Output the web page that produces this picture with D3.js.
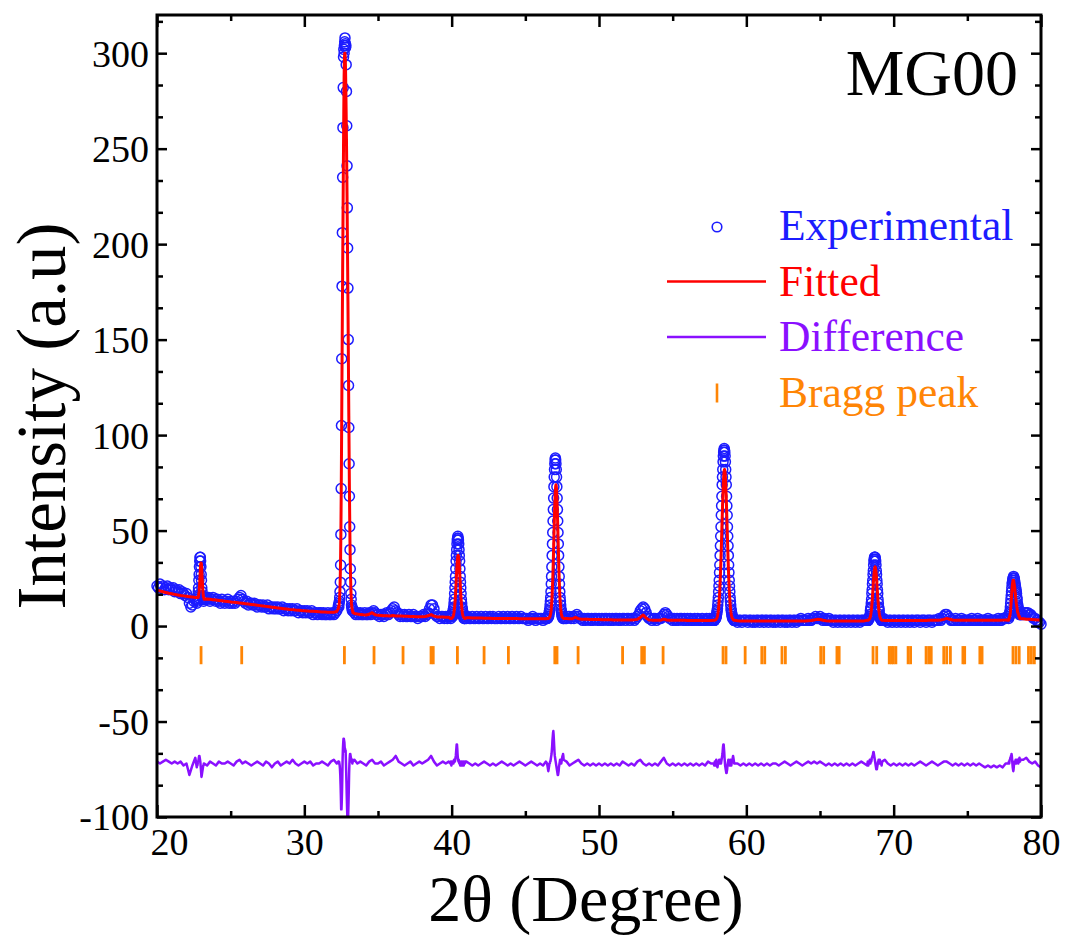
<!DOCTYPE html>
<html>
<head>
<meta charset="utf-8">
<script src="https://cdn.jsdelivr.net/npm/d3@7"></script>
<style>
  body { margin: 0; background: #fff; }
</style>
</head>
<body>
<div id="chart"></div>
<script>
// ---- data ----
// experimental scan, coarse part: 20.0 .. 80.0 every 0.1 deg (one row per degree)
const obsStart = 20
const obsStep = 0.1
const obsCoarse = [
  21, 20, 22, 20, 21, 19, 20, 21, 19, 20, // 20
  19, 20, 18, 19, 18, 19, 17, 18, 17, 16, // 21
  17, 15, 12, 10, 11, 13, 14, 12, 16, 31, // 22
  27, 15, 14, 15, 14, 15, 13, 14, 15, 14, // 23
  13, 14, 13, 12, 14, 13, 12, 13, 14, 12, // 24
  13, 12, 13, 12, 13, 14, 15, 16, 14, 13, // 25
  12, 13, 11, 12, 12, 11, 12, 11, 10, 11, // 26
  11, 10, 11, 10, 10, 11, 9, 10, 10, 9, // 27
  10, 9, 10, 9, 9, 10, 8, 9, 9, 8, // 28
  9, 8, 9, 8, 8, 9, 7, 8, 8, 7, // 29
  8, 7, 8, 7, 7, 8, 6, 7, 7, 6, // 30
  7, 7, 6, 7, 6, 6, 7, 6, 6, 7, // 31
  6, 7, 8, 10, 15, 72, 235, 300, 303, 219, // 32
  126, 40, 11, 8, 7, 6, 7, 6, 7, 6, // 33
  6, 7, 6, 6, 7, 6, 7, 8, 7, 6, // 34
  6, 5, 6, 6, 5, 6, 7, 6, 7, 8, // 35
  9, 10, 8, 7, 6, 5, 6, 5, 6, 5, // 36
  5, 6, 5, 5, 6, 5, 5, 4, 5, 5, // 37
  5, 6, 5, 6, 7, 9, 11, 11, 9, 6, // 38
  5, 5, 4, 5, 5, 4, 5, 4, 5, 5, // 39
  6, 9, 17, 34, 47, 37, 20, 9, 6, 5, // 40
  4, 5, 4, 4, 5, 4, 4, 5, 4, 4, // 41
  5, 4, 4, 5, 4, 4, 5, 4, 5, 4, // 42
  4, 4, 5, 4, 4, 5, 4, 4, 5, 4, // 43
  4, 5, 4, 4, 5, 4, 4, 5, 4, 4, // 44
  4, 4, 3, 4, 4, 5, 4, 3, 4, 4, // 45
  4, 4, 3, 4, 4, 5, 8, 15, 31, 61, // 46
  85, 78, 55, 31, 15, 8, 5, 4, 4, 5, // 47
  5, 4, 5, 4, 5, 6, 5, 4, 4, 3, // 48
  4, 3, 4, 4, 3, 4, 3, 4, 4, 3, // 49
  4, 3, 4, 3, 4, 4, 3, 4, 3, 4, // 50
  3, 4, 4, 3, 4, 3, 4, 4, 3, 4, // 51
  4, 3, 4, 4, 3, 4, 5, 6, 8, 9, // 52
  10, 9, 7, 5, 4, 4, 3, 4, 4, 3, // 53
  4, 4, 4, 5, 6, 7, 6, 5, 4, 4, // 54
  3, 4, 3, 4, 3, 4, 4, 3, 4, 3, // 55
  4, 3, 4, 3, 3, 4, 3, 4, 3, 3, // 56
  4, 3, 3, 4, 3, 4, 3, 3, 4, 5, // 57
  7, 11, 18, 37, 68, 93, 82, 58, 32, 15, // 58
  7, 4, 3, 3, 2, 3, 3, 2, 3, 3, // 59
  3, 2, 3, 3, 2, 3, 2, 3, 3, 2, // 60
  3, 3, 2, 3, 3, 2, 3, 3, 2, 3, // 61
  2, 3, 3, 2, 3, 3, 2, 3, 2, 3, // 62
  3, 2, 3, 3, 2, 3, 3, 4, 3, 3, // 63
  3, 3, 4, 3, 3, 4, 4, 5, 4, 4, // 64
  5, 4, 3, 4, 3, 3, 4, 3, 3, 2, // 65
  3, 3, 2, 3, 3, 2, 3, 3, 2, 3, // 66
  3, 2, 3, 3, 2, 3, 3, 2, 3, 3, // 67
  3, 3, 3, 4, 8, 17, 29, 36, 32, 19, // 68
  10, 5, 4, 4, 3, 3, 2, 3, 3, 2, // 69
  3, 3, 2, 3, 3, 2, 3, 3, 2, 3, // 70
  3, 2, 3, 3, 2, 3, 3, 3, 2, 3, // 71
  3, 3, 2, 3, 3, 3, 2, 3, 3, 3, // 72
  3, 4, 3, 4, 5, 6, 6, 5, 4, 3, // 73
  3, 3, 4, 3, 3, 3, 4, 3, 3, 3, // 74
  3, 3, 3, 4, 3, 3, 3, 4, 3, 3, // 75
  3, 3, 3, 3, 4, 3, 3, 3, 3, 3, // 76
  3, 4, 3, 3, 4, 4, 4, 5, 4, 8, // 77
  18, 25, 24, 19, 12, 8, 6, 6, 6, 7, // 78
  7, 7, 6, 6, 5, 4, 4, 3, 2, 2, // 79
  1 // 80
]

// fitted profile and difference curve, coarse part: 20.0 .. 80.0 every 0.2 deg
const curveStep = 0.2
const fitCoarse = [
  18.8, 18.4, 18.0, 17.6, 17.2, 16.9, 16.6, 16.3, 16.0, 15.8, // 20-21
  15.6, 15.4, 15.2, 15.0, 15.0, 33.0, 14.0, 14.2, 14.0, 13.8, // 22-23
  13.6, 13.4, 13.2, 13.0, 12.8, 12.6, 12.4, 12.3, 12.1, 11.9, // 24-25
  11.7, 11.5, 11.3, 11.1, 10.9, 10.7, 10.5, 10.3, 10.1, 9.9, // 26-27
  9.7, 9.5, 9.3, 9.1, 8.9, 8.7, 8.6, 8.4, 8.3, 8.1, // 28-29
  8.0, 7.9, 7.8, 7.7, 7.6, 7.5, 7.4, 7.3, 7.2, 7.2, // 30-31
  7.2, 7.6, 16, 185, 290, 130, 12, 6.6, 6.3, 6.1, // 32-33
  5.9, 5.8, 6.2, 7.0, 5.9, 5.6, 5.5, 5.4, 5.4, 5.3, // 34-35
  5.5, 5.3, 5.2, 5.2, 5.1, 5.1, 5.0, 5.0, 4.9, 4.9, // 36-37
  4.9, 5.0, 5.4, 6.0, 5.2, 4.8, 4.7, 4.7, 4.6, 4.6, // 38-39
  4.5, 14, 37, 14, 4.5, 4.3, 4.3, 4.2, 4.2, 4.2, // 40-41
  4.2, 4.1, 4.1, 4.1, 4.0, 4.0, 4.0, 4.0, 3.9, 3.9, // 42-43
  3.9, 3.9, 3.9, 3.8, 3.8, 3.8, 3.8, 3.8, 3.8, 3.8, // 44-45
  3.8, 3.8, 3.8, 5.8, 20, 58, 63, 24, 6.6, 3.9, // 46-47
  3.8, 3.8, 4.6, 3.9, 3.6, 3.5, 3.5, 3.4, 3.4, 3.4, // 48-49
  3.4, 3.3, 3.3, 3.3, 3.3, 3.2, 3.2, 3.2, 3.2, 3.2, // 50-51
  3.2, 3.2, 3.3, 3.5, 4.5, 5.8, 4.2, 3.2, 3.1, 3.1, // 52-53
  3.1, 3.1, 3.6, 3.2, 3.0, 3.0, 3.0, 3.0, 3.0, 3.0, // 54-55
  2.9, 2.9, 2.9, 2.9, 2.9, 2.9, 2.9, 2.9, 2.9, 3.0, // 56-57
  3.9, 13.7, 66, 75, 19, 4.7, 2.8, 2.8, 2.7, 2.7, // 58-59
  2.7, 2.7, 2.6, 2.6, 2.6, 2.6, 2.6, 2.6, 2.6, 2.6, // 60-61
  2.6, 2.6, 2.6, 2.6, 2.6, 2.6, 2.6, 2.6, 2.7, 2.7, // 62-63
  2.7, 2.8, 2.9, 3.2, 3.5, 3.4, 3.0, 2.8, 2.7, 2.7, // 64-65
  2.7, 2.7, 2.7, 2.7, 2.7, 2.7, 2.7, 2.7, 2.7, 2.7, // 66-67
  2.7, 3.0, 5, 22, 27, 6.8, 3.0, 2.9, 2.9, 2.9, // 68-69
  2.9, 2.9, 2.9, 2.9, 2.9, 2.9, 2.9, 2.9, 2.9, 2.9, // 70-71
  2.9, 2.9, 3.0, 3.0, 3.0, 3.0, 3.2, 3.5, 4.0, 3.6, // 72-73
  3.2, 3.0, 3.0, 3.0, 3.0, 3.0, 3.0, 3.0, 3.0, 3.0, // 74-75
  3.0, 3.0, 3.0, 3.0, 3.0, 3.0, 3.0, 3.1, 3.2, 3.0, // 76-77
  16, 21, 8, 4, 3.8, 3.6, 3.5, 3.4, 3.3, 3.2, // 78-79
  3.1 // 80
]
const diffCoarse = [
  -71, -72, -71, -70, -71, -72, -71, -72, -71, -73, // 20-21
  -72, -78, -73, -69, -73, -77, -73, -73, -71, -72, // 22-23
  -73, -71, -72, -72, -71, -72, -73, -71, -70, -72, // 24-25
  -71, -72, -73, -72, -71, -72, -73, -71, -72, -74, // 26-27
  -72, -71, -73, -72, -71, -72, -70, -72, -73, -72, // 28-29
  -71, -72, -71, -73, -72, -72, -71, -72, -73, -71, // 30-31
  -70, -72, -73, -69, -65, -92, -71, -70, -72, -71, // 32-33
  -72, -73, -71, -70, -72, -72, -71, -73, -72, -71, // 34-35
  -70, -68, -71, -72, -73, -72, -71, -73, -72, -71, // 36-37
  -72, -71, -70, -68, -71, -73, -72, -71, -72, -71, // 38-39
  -72, -70, -62, -70, -72, -71, -72, -73, -72, -73, // 40-41
  -72, -71, -72, -73, -72, -73, -72, -71, -72, -73, // 42-43
  -72, -73, -72, -71, -72, -73, -72, -71, -72, -73, // 44-45
  -72, -73, -71, -74, -67, -68, -78, -72, -68, -71, // 46-47
  -73, -72, -71, -70, -72, -73, -72, -73, -72, -73, // 48-49
  -72, -73, -72, -73, -72, -73, -72, -73, -71, -72, // 50-51
  -73, -72, -73, -71, -70, -72, -73, -72, -73, -72, // 52-53
  -73, -71, -69, -72, -73, -72, -73, -72, -73, -72, // 54-55
  -73, -72, -73, -72, -73, -72, -73, -71, -72, -70, // 56-57
  -72, -71, -63, -76, -71, -72, -69, -72, -73, -72, // 58-59
  -73, -72, -73, -72, -73, -72, -73, -72, -73, -72, // 60-61
  -72, -73, -72, -71, -72, -73, -72, -71, -72, -73, // 62-63
  -72, -71, -72, -71, -72, -71, -72, -73, -72, -73, // 64-65
  -72, -73, -72, -73, -72, -73, -72, -73, -72, -71, // 66-67
  -72, -73, -72, -68, -71, -71, -72, -70, -72, -73, // 68-69
  -72, -73, -72, -73, -72, -73, -72, -73, -72, -71, // 70-71
  -72, -73, -72, -71, -72, -73, -72, -71, -71, -72, // 72-73
  -73, -72, -73, -72, -73, -72, -73, -72, -73, -72, // 74-75
  -73, -74, -73, -74, -73, -74, -73, -74, -72, -72, // 76-77
  -67, -73, -71, -70, -70, -69, -71, -72, -71, -73, // 78-79
  -74 // 80
]

// fine scans (0.02 deg) across the reflections; they replace the coarse points in their span
const fineStep = 0.02
const fineStarts = [22.7, 32.3, 39.92, 46.48, 57.8, 68.22, 77.8]
const obsFine = [
  [12, 13, 14, 15, 16, 18, 20, 24, 27, 31, 34, 36, 36, 34, 31, 27, 24, 20, 18, 16, 15, 14, 14, 13, 14, 14],
  [10, 11, 10, 12, 13, 15, 18, 23, 32, 48, 72, 105, 140, 178, 206, 235, 261, 282, 298, 302, 300, 304, 306, 308, 305, 303, 304, 294, 280, 262, 241, 219, 198, 177, 150, 126, 104, 85, 68, 52, 40, 30, 23, 17, 14, 11, 10, 9, 8, 9, 8],
  [5, 4, 5, 6, 5, 5, 6, 5, 7, 8, 9, 10, 12, 14, 17, 20, 23, 26, 30, 34, 37, 40, 43, 45, 46, 47, 46, 45, 43, 40, 37, 34, 30, 26, 23, 20, 17, 14, 12, 10, 9, 8, 7, 6, 5, 5, 4, 5, 4, 4, 5],
  [4, 4, 5, 5, 5, 5, 6, 7, 8, 9, 11, 13, 15, 18, 22, 26, 31, 37, 43, 49, 55, 61, 67, 73, 78, 82, 85, 87, 88, 87, 85, 82, 78, 73, 67, 61, 55, 49, 43, 37, 31, 26, 22, 18, 15, 13, 11, 9, 8, 7, 6, 5, 5, 5, 4, 5, 4],
  [3, 3, 3, 4, 4, 4, 4, 5, 5, 6, 7, 8, 9, 11, 13, 15, 18, 21, 24, 28, 32, 37, 42, 47, 52, 58, 63, 68, 74, 78, 82, 86, 89, 91, 92, 93, 92, 91, 89, 86, 82, 78, 74, 68, 63, 58, 52, 47, 42, 37, 32, 28, 24, 21, 18, 15, 13, 11, 9, 8, 7, 6, 5, 5, 4, 4, 4, 4, 3, 3, 3],
  [3, 3, 3, 3, 4, 4, 4, 5, 5, 6, 8, 9, 10, 12, 14, 17, 19, 22, 24, 27, 29, 32, 34, 35, 36, 36, 36, 35, 34, 32, 29, 27, 24, 22, 19, 17, 14, 12, 10, 9, 8, 6, 5, 5, 4, 4, 4, 3, 3, 3, 3],
  [4, 5, 5, 6, 7, 8, 10, 12, 14, 16, 18, 20, 22, 23, 24, 25, 25, 26, 25, 25, 24, 23, 22, 21, 20, 19, 18, 17, 15, 14, 12, 11, 10, 9, 8, 8, 7, 7, 6, 6, 6]
]
const fitFine = [
  [15, 15, 15, 15, 15, 15, 16, 17, 18, 20, 23, 26, 29, 32, 33, 33, 32, 29, 26, 23, 20, 18, 16, 15, 15, 14],
  [9, 10, 10, 11, 13, 16, 20, 26, 35, 48, 66, 88, 112, 138, 162, 185, 208, 230, 252, 272, 288, 297, 300, 300, 297, 290, 280, 268, 255, 240, 224, 206, 188, 170, 150, 130, 110, 90, 72, 56, 43, 33, 25, 19, 15, 12, 10, 9, 8, 8, 7],
  [4, 4, 4, 4, 4, 4.2, 4.3, 4.5, 4.7, 5.1, 5.6, 6.3, 7.2, 8.5, 10, 11.9, 14.1, 16.6, 19.5, 22.5, 25.5, 28.6, 31.3, 33.7, 35.5, 36.6, 37, 36.6, 35.5, 33.7, 31.3, 28.6, 25.5, 22.5, 19.5, 16.6, 14.1, 11.9, 10, 8.5, 7.2, 6.3, 5.6, 5.1, 4.7, 4.5, 4.3, 4.2, 4, 4, 4],
  [4, 4, 4, 4, 4, 4.1, 4.2, 4.3, 4.5, 4.8, 5.2, 5.8, 6.6, 7.6, 9.1, 11.1, 13.5, 16.5, 20.1, 24.4, 29.2, 34.7, 40.4, 46.5, 52.5, 58.3, 63.4, 67.8, 71.2, 73.3, 74, 73.3, 71.2, 67.8, 63.4, 58.3, 52.5, 46.5, 40.4, 34.7, 29.2, 24.4, 20.1, 16.5, 13.5, 11.1, 9.1, 7.6, 6.6, 5.8, 5.2, 4.8, 4.5, 4.3, 4.2, 4.1, 4],
  [3, 3, 3, 3.1, 3.2, 3.2, 3.3, 3.5, 3.6, 3.9, 4.2, 4.7, 5.3, 6, 7, 8.2, 9.7, 11.5, 13.7, 16.3, 19.3, 22.7, 26.5, 30.9, 35.5, 40.4, 45.6, 51, 56.2, 61.4, 66.3, 70.7, 74.6, 77.7, 80.1, 81.5, 82, 81.5, 80.1, 77.7, 74.6, 70.7, 66.3, 61.4, 56.2, 51, 45.6, 40.4, 35.5, 30.9, 26.5, 22.7, 19.3, 16.3, 13.7, 11.5, 9.7, 8.2, 7, 6, 5.3, 4.7, 4.2, 3.9, 3.6, 3.5, 3.3, 3.2, 3.1, 3, 3],
  [3, 3, 3.1, 3.1, 3.2, 3.3, 3.5, 3.7, 4, 4.5, 5, 5.8, 6.8, 8, 9.4, 11.1, 13.1, 15.3, 17.6, 20, 22.4, 24.7, 26.8, 28.5, 29.9, 30.7, 31, 30.7, 29.9, 28.5, 26.8, 24.7, 22.4, 20, 17.6, 15.3, 13.1, 11.1, 9.4, 8, 6.8, 5.8, 5, 4.5, 4, 3.7, 3.5, 3.3, 3.2, 3.1, 3.1],
  [3, 4, 4, 5, 5, 6, 7, 9, 11, 13, 16, 18, 20, 22, 23, 24, 24, 24, 23, 22, 21, 20, 18, 17, 15, 14, 12, 11, 10, 9, 8, 7, 7, 6, 6, 5, 5, 5, 4, 4, 4]
]
const diffFine = [
  [-74, -73, -73, -72, -71, -71, -70, -69, -68, -68, -69, -70, -71, -73, -75, -77, -79, -78, -77, -76, -75, -74, -73, -73, -72, -72],
  [-71, -71, -72, -71, -72, -73, -75, -78, -83, -89, -96, -96, -92, -86, -78, -69, -64, -61, -59, -59, -60, -61, -64, -64, -66, -65, -70, -76, -82, -89, -95, -100, -101, -102, -98, -92, -85, -77, -72, -69, -67, -67, -68, -69, -70, -71, -71, -71, -72, -70, -71],
  [-72, -71, -72, -73, -72, -71, -72, -71, -72, -71, -72, -71, -70, -71, -70, -71, -70, -69, -68, -66, -64, -62, -62, -64, -67, -69, -70, -71, -70, -71, -72, -71, -72, -73, -72, -71, -72, -73, -72, -71, -72, -73, -72, -71, -72, -73, -72, -71, -72, -72, -71],
  [-72, -73, -74, -75, -76, -75, -74, -73, -72, -72, -71, -71, -70, -69, -68, -67, -65, -63, -60, -58, -56, -55, -57, -60, -63, -66, -68, -69, -70, -71, -72, -73, -74, -75, -76, -77, -78, -78, -77, -76, -74, -73, -72, -71, -70, -70, -71, -72, -72, -71, -70, -69, -68, -68, -67, -68, -70],
  [-72, -73, -72, -71, -72, -73, -72, -71, -70, -71, -72, -73, -74, -73, -72, -71, -72, -71, -70, -71, -72, -71, -70, -71, -72, -71, -70, -69, -68, -67, -65, -63, -62, -62, -64, -66, -69, -71, -73, -74, -75, -76, -77, -77, -76, -75, -73, -72, -71, -70, -70, -71, -72, -73, -72, -71, -70, -71, -72, -73, -72, -71, -70, -70, -69, -68, -69, -70, -71, -72, -72],
  [-72, -71, -72, -73, -72, -71, -72, -71, -70, -71, -72, -71, -70, -71, -70, -69, -69, -68, -68, -67, -66, -66, -67, -68, -69, -70, -71, -72, -73, -74, -75, -75, -75, -74, -73, -72, -71, -71, -70, -71, -72, -71, -70, -71, -72, -72, -71, -72, -73, -72, -71],
  [-72, -71, -72, -71, -70, -70, -69, -69, -68, -68, -67, -68, -70, -72, -74, -75, -76, -75, -73, -72, -71, -71, -72, -71, -70, -71, -72, -71, -70, -70, -71, -70, -71, -72, -71, -70, -70, -69, -70, -71, -70]
]

// Bragg reflection positions (2theta, deg)
const braggPeaks = [
  22.99, 25.75, 32.72, 34.73, 36.7, 38.6, 38.75, 40.39, 42.2, 43.85, 47.0, 47.15, 48.58,
  51.6, 52.9, 53.08, 54.35, 58.42, 58.62, 59.92, 61.05, 61.25, 62.42, 62.65, 65.05, 65.25,
  66.15, 66.3, 68.6, 68.85, 69.7, 69.85, 69.98, 70.15, 70.98, 71.15, 72.2, 72.38, 72.55,
  73.4, 73.6, 73.85, 74.7, 74.82, 75.85, 76.0, 78.1, 78.3, 78.52, 79.15, 79.35, 79.55
]

const xTicks = [20, 30, 40, 50, 60, 70, 80]
const xMinorTicks = [25, 35, 45, 55, 65, 75]
const yTicks = [-100, -50, 0, 50, 100, 150, 200, 250, 300]
const legendLabels = ['Experimental', 'Fitted', 'Difference', 'Bragg peak']
const sampleName = 'MG00'
const xTitle = '2θ (Degree)'
const yTitle = 'Intensity (a.u)'

// ---- chart ----
const width = 1068
const height = 943
const margin = { top: 15, right: 27, bottom: 126, left: 157 }
const serif = "'Liberation Serif', 'Times New Roman', serif"
const colors = { obs: '#1c1cff', fit: '#ff0000', diff: '#8a10ff', bragg: '#ff8505' }
const tickFont = 38

const x = d3.scaleLinear().domain([20, 80]).range([margin.left, width - margin.right])
const y = d3.scaleLinear().domain([-100, 320]).range([height - margin.bottom, margin.top])

const round2 = (v) => Math.round(v * 100) / 100
const fineSpans = fineStarts.map((s, i) => [s, round2(s + (obsFine[i].length - 1) * fineStep)])
const inFine = (v) => fineSpans.some(([a, b]) => v > a - 1e-6 && v < b + 1e-6)

const buildSeries = (coarse, step, fine) => {
  const pts = coarse.map((v, i) => ({ x: round2(obsStart + i * step), y: v })).filter((d) => !inFine(d.x))
  fine.forEach((block, k) => {
    block.forEach((v, i) => pts.push({ x: round2(fineStarts[k] + i * fineStep), y: v }))
  })
  return pts.sort((a, b) => a.x - b.x)
}

const obs = buildSeries(obsCoarse, obsStep, obsFine)
const fit = buildSeries(fitCoarse, curveStep, fitFine)
const diff = buildSeries(diffCoarse, curveStep, diffFine)

const svg = d3
  .select('#chart')
  .append('svg')
  .attr('width', width)
  .attr('height', height)
  .style('font-family', serif)

svg
  .append('clipPath')
  .attr('id', 'plot-clip')
  .append('rect')
  .attr('x', margin.left)
  .attr('y', margin.top)
  .attr('width', width - margin.left - margin.right)
  .attr('height', height - margin.top - margin.bottom)

// experimental points
svg
  .append('g')
  .selectAll('circle')
  .data(obs)
  .join('circle')
  .attr('cx', (d) => x(d.x))
  .attr('cy', (d) => y(d.y))
  .attr('r', 5)
  .attr('fill', 'none')
  .attr('stroke', colors.obs)
  .attr('stroke-width', 1.5)

const line = d3
  .line()
  .x((d) => x(d.x))
  .y((d) => y(d.y))

svg
  .append('path')
  .datum(fit)
  .attr('clip-path', 'url(#plot-clip)')
  .attr('d', line)
  .attr('fill', 'none')
  .attr('stroke', colors.fit)
  .attr('stroke-width', 3)
  .attr('stroke-linejoin', 'round')

svg
  .append('path')
  .datum(diff)
  .attr('clip-path', 'url(#plot-clip)')
  .attr('d', line)
  .attr('fill', 'none')
  .attr('stroke', colors.diff)
  .attr('stroke-width', 2.5)
  .attr('stroke-linejoin', 'round')

// Bragg markers
svg
  .append('g')
  .selectAll('line')
  .data(braggPeaks)
  .join('line')
  .attr('x1', (d) => x(d))
  .attr('x2', (d) => x(d))
  .attr('y1', y(-10.5))
  .attr('y2', y(-20))
  .attr('stroke', colors.bragg)
  .attr('stroke-width', 2.8)

// axes: ticks point inward on all four sides
const styleAxis = (g) => {
  g.select('.domain').remove()
  g.attr('font-family', serif).attr('font-size', tickFont)
  g.selectAll('line').attr('stroke', '#000').attr('stroke-width', 2.5)
  g.selectAll('text').attr('fill', '#000')
}
const fmt = (d) => String(d)
const plotBottom = height - margin.bottom
const plotRight = width - margin.right

svg
  .append('g')
  .attr('transform', `translate(0,${plotBottom})`)
  .call(d3.axisBottom(x).tickValues(xTicks).tickFormat(fmt).tickSizeInner(-12).tickSizeOuter(0).tickPadding(11))
  .call(styleAxis)
  // nudge the first label so it clears the "-100" of the y axis
  .call((g) => g.selectAll('.tick text').filter((d) => d === xTicks[0]).attr('dx', 12))
svg
  .append('g')
  .attr('transform', `translate(0,${plotBottom})`)
  .call(d3.axisBottom(x).tickValues(xMinorTicks).tickFormat('').tickSizeInner(-6).tickSizeOuter(0))
  .call(styleAxis)
svg
  .append('g')
  .attr('transform', `translate(0,${margin.top})`)
  .call(d3.axisTop(x).tickValues(xTicks).tickFormat('').tickSizeInner(-12).tickSizeOuter(0))
  .call(styleAxis)
svg
  .append('g')
  .attr('transform', `translate(0,${margin.top})`)
  .call(d3.axisTop(x).tickValues(xMinorTicks).tickFormat('').tickSizeInner(-6).tickSizeOuter(0))
  .call(styleAxis)

const yMinorTicks = d3.range(-100, 320, 50 / 3).filter((v) => Math.abs(v / 50 - Math.round(v / 50)) > 0.01)

svg
  .append('g')
  .attr('transform', `translate(${margin.left},0)`)
  .call(d3.axisLeft(y).tickValues(yTicks).tickFormat(fmt).tickSizeInner(-10).tickSizeOuter(0).tickPadding(8))
  .call(styleAxis)
  .call((g) => g.selectAll('text').attr('dy', '0.34em'))
svg
  .append('g')
  .attr('transform', `translate(${margin.left},0)`)
  .call(d3.axisLeft(y).tickValues(yMinorTicks).tickFormat('').tickSizeInner(-6).tickSizeOuter(0))
  .call(styleAxis)
svg
  .append('g')
  .attr('transform', `translate(${plotRight},0)`)
  .call(d3.axisRight(y).tickValues(yTicks).tickFormat('').tickSizeInner(-10).tickSizeOuter(0))
  .call(styleAxis)
svg
  .append('g')
  .attr('transform', `translate(${plotRight},0)`)
  .call(d3.axisRight(y).tickValues(yMinorTicks).tickFormat('').tickSizeInner(-6).tickSizeOuter(0))
  .call(styleAxis)

// frame
svg
  .append('rect')
  .attr('x', margin.left)
  .attr('y', margin.top)
  .attr('width', plotRight - margin.left)
  .attr('height', plotBottom - margin.top)
  .attr('fill', 'none')
  .attr('stroke', '#000')
  .attr('stroke-width', 3)

// axis titles
svg
  .append('text')
  .attr('x', (margin.left + plotRight) / 2 - 13)
  .attr('y', 921)
  .attr('text-anchor', 'middle')
  .attr('font-size', 66)
  .text(xTitle)

svg
  .append('text')
  .attr('transform', `translate(65,${(margin.top + plotBottom) / 2})rotate(-90)`)
  .attr('text-anchor', 'middle')
  .attr('font-size', 69)
  .text(yTitle)

svg
  .append('text')
  .attr('x', 1018)
  .attr('y', 95)
  .attr('text-anchor', 'end')
  .attr('font-size', 66)
  .text(sampleName)

// legend
const legendColors = [colors.obs, colors.fit, colors.diff, colors.bragg]
const legend = svg.append('g').attr('transform', 'translate(667,226)')
const rowGap = 55.5
legendLabels.forEach((label, i) => {
  const row = legend.append('g').attr('transform', `translate(0,${i * rowGap})`)
  if (i === 0) {
    row.append('circle').attr('cx', 50).attr('cy', 1).attr('r', 4.8).attr('fill', 'none').attr('stroke', legendColors[i]).attr('stroke-width', 1.6)
  } else if (i === 3) {
    row.append('line').attr('x1', 50).attr('x2', 50).attr('y1', -9).attr('y2', 10).attr('stroke', legendColors[i]).attr('stroke-width', 2.6)
  } else {
    row.append('line').attr('x1', 0).attr('x2', 99).attr('y1', 0).attr('y2', 0).attr('stroke', legendColors[i]).attr('stroke-width', 2.5)
  }
  row
    .append('text')
    .attr('x', 112)
    .attr('y', 14)
    .attr('font-size', 43.5)
    .attr('fill', legendColors[i])
    .text(label)
})
</script>
</body>
</html>
